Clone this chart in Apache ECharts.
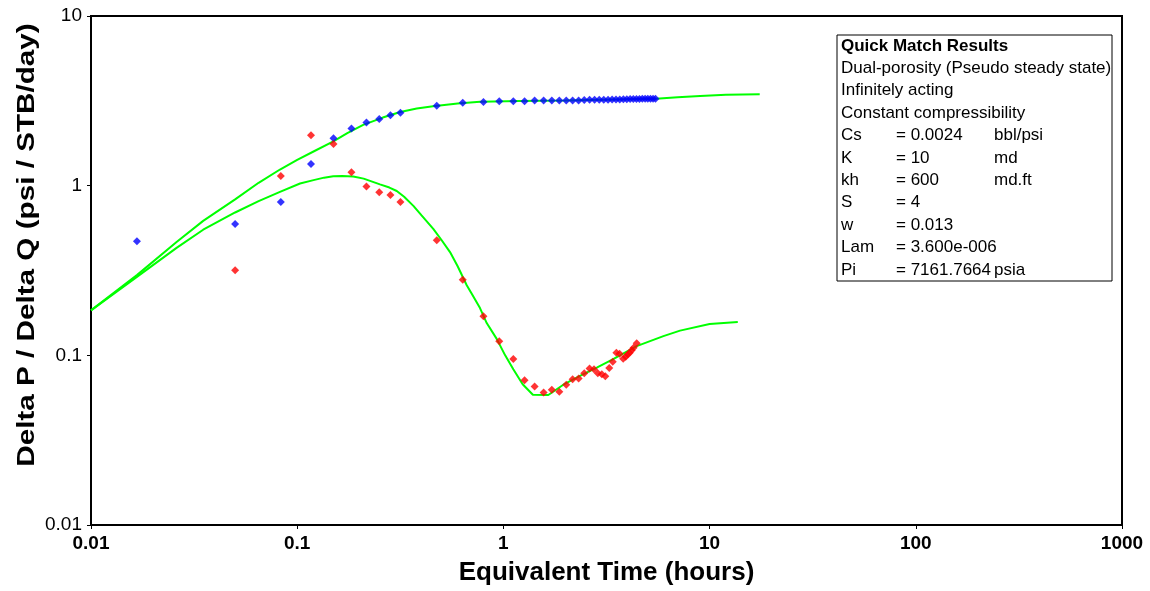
<!DOCTYPE html>
<html>
<head>
<meta charset="utf-8">
<script src="https://cdn.jsdelivr.net/npm/echarts@6/dist/echarts.min.js"></script>
<style>
html,body{margin:0;padding:0;background:#fff;}
#chart{width:1150px;height:591px;}
</style>
</head>
<body>
<div id="chart"></div>
<script>
// ---- data ----
var xTickLabels = ['0.01', '0.1', '1', '10', '100', '1000'];
var yTickLabels = ['0.01', '0.1', '1', '10'];

var pressureX = [0.0167, 0.05, 0.0833, 0.1167, 0.15, 0.1833, 0.2167, 0.25, 0.2833, 0.3167,
  0.475, 0.635, 0.8, 0.955, 1.117, 1.267, 1.417, 1.567, 1.717, 1.867, 2.017, 2.167, 2.317,
  2.467, 2.617, 2.767, 2.917, 3.067, 3.217, 3.367, 3.517, 3.667, 3.817, 3.967, 4.117, 4.267,
  4.417, 4.567, 4.717, 4.867, 5.017, 5.167, 5.317, 5.467];
var pressureY = [0.47, 0.594, 0.80, 1.34, 1.90, 2.17, 2.36, 2.47, 2.60, 2.69,
  2.96, 3.08, 3.11, 3.14, 3.14, 3.14, 3.18, 3.18, 3.18, 3.18, 3.18, 3.18, 3.18,
  3.20, 3.21, 3.21, 3.21, 3.21, 3.21, 3.22, 3.22, 3.22, 3.23, 3.23, 3.24, 3.24,
  3.24, 3.24, 3.25, 3.25, 3.25, 3.25, 3.25, 3.25];

var derivX = [0.05, 0.0833, 0.1167, 0.15, 0.1833, 0.2167, 0.25, 0.2833, 0.3167, 0.475,
  0.635, 0.8, 0.955, 1.117, 1.267, 1.417, 1.567, 1.717, 1.867, 2.017, 2.167, 2.317, 2.467,
  2.617, 2.75, 2.87, 3.0, 3.12, 3.26, 3.39, 3.53, 3.66, 3.81, 3.92, 4.01, 4.10, 4.19, 4.28, 4.43];
var derivY = [0.317, 1.14, 1.98, 1.76, 1.20, 0.99, 0.914, 0.881, 0.80, 0.477,
  0.279, 0.170, 0.121, 0.0952, 0.0714, 0.0656, 0.0603, 0.0627, 0.0610, 0.0671, 0.0723, 0.0730, 0.0784,
  0.0835, 0.0827, 0.0784, 0.0774, 0.0753, 0.0843, 0.0918, 0.1035, 0.102, 0.0955, 0.0982, 0.1012, 0.1035, 0.107, 0.1107, 0.118];

var modelPX = [0.01, 0.0167, 0.026, 0.035, 0.05, 0.065, 0.0825, 0.1, 0.12, 0.149, 0.175, 0.209, 0.26, 0.316,
  0.38, 0.456, 0.6, 0.77, 1.2, 2, 3, 5.5, 7, 9, 12, 17.5];
var modelPY = [0.184, 0.297, 0.465, 0.62, 0.83, 1.04, 1.245, 1.42, 1.59, 1.82, 2.04, 2.28, 2.52, 2.72,
  2.85, 2.94, 3.05, 3.12, 3.16, 3.18, 3.21, 3.25, 3.32, 3.38, 3.43, 3.46];

var modelDX = [0.01, 0.0167, 0.026, 0.035, 0.05, 0.065, 0.0825, 0.1032, 0.12, 0.135, 0.1496, 0.165, 0.187, 0.21,
  0.252, 0.28, 0.304, 0.33, 0.366, 0.4, 0.457, 0.5, 0.551, 0.6, 0.664, 0.7, 0.77, 0.83, 0.928, 1.02, 1.117,
  1.24, 1.39, 1.651, 1.952, 2.352, 2.836, 3.39, 4.43, 5.97, 7.19, 10, 13.7];
var modelDY = [0.184, 0.29, 0.43, 0.55, 0.695, 0.81, 0.92, 1.03, 1.078, 1.115, 1.138, 1.142, 1.134, 1.10,
  1.018, 0.975, 0.93, 0.86, 0.76, 0.67, 0.556, 0.48, 0.406, 0.335, 0.259, 0.232, 0.19, 0.155, 0.125, 0.1, 0.0827,
  0.0676, 0.0586, 0.0584, 0.0671, 0.0757, 0.0846, 0.0946, 0.1133, 0.1297, 0.1398, 0.153, 0.157];

var yTitle = 'Delta P / Delta Q (psi / STB/day)';
var xTitle = 'Equivalent Time (hours)';
var boxTitle = 'Quick Match Results';
var boxLines = ['Dual-porosity (Pseudo steady state)', 'Infinitely acting', 'Constant compressibility'];
var paramNames = ['Cs', 'K', 'kh', 'S', 'w', 'Lam', 'Pi'];
var paramValues = ['= 0.0024', '= 10', '= 600', '= 4', '= 0.013', '= 3.600e-006', '= 7161.7664'];
var paramUnits = ['bbl/psi', 'md', 'md.ft', '', '', '', 'psia'];

// ---- build ----
function zip(a, b) { return a.map(function (v, i) { return [v, b[i]]; }); }
function labelFor(list, minExp) {
  return function (v) {
    var i = Math.round(Math.log(v) / Math.LN10) - minExp;
    return list[i] !== undefined ? list[i] : '';
  };
}
var FONT = '"Liberation Sans", Arial, sans-serif';

var graphics = [];
// y axis title (stretched along its length, as in the reference)
graphics.push({ type: 'text', x: 28, y: 245, rotation: Math.PI / 2, scaleX: 1.29, scaleY: 1, z: 50,
  style: { text: yTitle, font: 'bold 23px ' + FONT, fill: '#000', align: 'center', verticalAlign: 'middle' } });

var bx = 837, by = 35, bw = 275, bh = 246, rowH = 22.4, ty0 = 46;
graphics.push({ type: 'rect', shape: { x: bx, y: by, width: bw, height: bh },
  style: { fill: '#fff', stroke: '#000', lineWidth: 1 }, z: 100 });
graphics.push({ type: 'text', x: 841, y: ty0, z: 101,
  style: { text: boxTitle, font: 'bold 17px ' + FONT, fill: '#000', verticalAlign: 'middle' } });
boxLines.forEach(function (t, i) {
  graphics.push({ type: 'text', x: 841, y: ty0 + rowH * (i + 1), z: 101,
    style: { text: t, font: '17px ' + FONT, fill: '#000', verticalAlign: 'middle' } });
});
paramNames.forEach(function (t, i) {
  var y = ty0 + rowH * (i + 4);
  graphics.push({ type: 'text', x: 841, y: y, z: 101, style: { text: t, font: '17px ' + FONT, fill: '#000', verticalAlign: 'middle' } });
  graphics.push({ type: 'text', x: 896, y: y, z: 101, style: { text: paramValues[i], font: '17px ' + FONT, fill: '#000', verticalAlign: 'middle' } });
  if (paramUnits[i]) graphics.push({ type: 'text', x: 994, y: y, z: 101, style: { text: paramUnits[i], font: '17px ' + FONT, fill: '#000', verticalAlign: 'middle' } });
});

var chart = echarts.init(document.getElementById('chart'), null, { renderer: 'canvas' });
chart.setOption({
  animation: false,
  backgroundColor: '#fff',
  textStyle: { fontFamily: FONT },
  grid: { left: 91, right: 28, top: 16, bottom: 61, show: true, borderColor: '#000', borderWidth: 2, backgroundColor: 'transparent' },
  xAxis: {
    type: 'log', logBase: 10, min: 0.01, max: 1000,
    name: xTitle, nameLocation: 'middle', nameGap: 35,
    nameTextStyle: { fontFamily: FONT, fontSize: 26, fontWeight: 'bold', color: '#000' },
    axisLine: { lineStyle: { color: '#000', width: 2 } },
    axisTick: { show: true, length: 4, lineStyle: { color: '#000' } },
    minorTick: { show: false }, splitLine: { show: false },
    axisLabel: { formatter: labelFor(xTickLabels, -2), fontFamily: FONT, fontSize: 19, fontWeight: 'bold', color: '#000', margin: 9 }
  },
  yAxis: {
    type: 'log', logBase: 10, min: 0.01, max: 10,
    axisLine: { lineStyle: { color: '#000', width: 2 } },
    axisTick: { show: true, length: 4, lineStyle: { color: '#000' } },
    minorTick: { show: false }, splitLine: { show: false },
    axisLabel: { formatter: labelFor(yTickLabels, -2), fontFamily: FONT, fontSize: 19, color: '#000', margin: 9 }
  },
  series: [
    { name: 'Model pressure', type: 'line', data: zip(modelPX, modelPY), showSymbol: false, smooth: false,
      lineStyle: { color: '#00ff00', width: 2 }, z: 2 },
    { name: 'Model derivative', type: 'line', data: zip(modelDX, modelDY), showSymbol: false, smooth: false,
      lineStyle: { color: '#00ff00', width: 2 }, z: 2 },
    { name: 'Pressure', type: 'scatter', data: zip(pressureX, pressureY), symbol: 'diamond', symbolSize: 8,
      itemStyle: { color: '#0000ff' }, z: 3 },
    { name: 'Derivative', type: 'scatter', data: zip(derivX, derivY), symbol: 'diamond', symbolSize: 8,
      itemStyle: { color: '#ff0000' }, z: 3 }
  ],
  graphic: graphics
});
</script>
</body>
</html>
